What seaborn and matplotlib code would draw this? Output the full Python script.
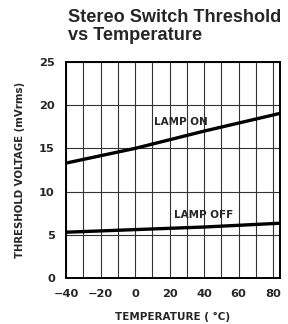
import matplotlib
matplotlib.use("Agg")
import matplotlib.pyplot as plt
import seaborn as sns
import pandas as pd

temps = [-40, 0, 40, 85]
lamp_on = [13.3, 15.0, 17.0, 19.1]
lamp_off = [5.3, 5.6, 5.9, 6.35]
x_ticks = [-40, -20, 0, 20, 40, 60, 80]
x_tick_labels = ["\u221240", "\u221220", "0", "20", "40", "60", "80"]
y_ticks = [0, 5, 10, 15, 20, 25]

df = pd.DataFrame({
    "temp": temps * 2,
    "v": lamp_on + lamp_off,
    "series": ["LAMP ON"] * len(temps) + ["LAMP OFF"] * len(temps),
})

sns.set_theme(style="white")
plt.rcParams["font.family"] = ["DejaVu Sans"]

fig = plt.figure(figsize=(2.88, 3.24), dpi=100)
ax = fig.add_axes([66/288, 46/324, 214/288, 216/324])

sns.lineplot(data=df, x="temp", y="v", units="series", estimator=None,
             color="black", linewidth=2.4, ax=ax, legend=False)

ax.set_xlim(-40, 84)
ax.set_ylim(0, 25)
ax.set_xticks(x_ticks)
ax.set_xticklabels(x_tick_labels)
ax.set_yticks(y_ticks)
ax.set_xticks(range(-30, 85, 10), minor=True)
ax.grid(True, which="both", axis="x", color="#333333", linewidth=0.8)
ax.grid(True, which="major", axis="y", color="#333333", linewidth=0.8)
ax.tick_params(axis="both", which="both", length=0)
ax.tick_params(axis="y", pad=8)
ax.tick_params(axis="x", pad=8)
for lab in ax.get_xticklabels() + ax.get_yticklabels():
    lab.set_fontsize(8.2)
    lab.set_fontweight("bold")
for s in ax.spines.values():
    s.set_color("black")
    s.set_linewidth(1.4)

ax.set_xlabel("TEMPERATURE ( \u00b0C)", fontsize=7.5, fontweight="bold", va="center")
ax.xaxis.set_label_coords(0.5, -0.18)
ax.set_ylabel("THRESHOLD VOLTAGE (mVrms)", fontsize=7.3, fontweight="bold", va="center")
ax.yaxis.set_label_coords(-0.215, 0.5)

ax.text(26.5, 18.1, "LAMP ON", ha="center", va="center", fontsize=7.5, fontweight="bold")
ax.text(39.8, 7.3, "LAMP OFF", ha="center", va="center", fontsize=7.5, fontweight="bold")

fig.text(68/288, 1 - 9/324, "Stereo Switch Threshold\nvs Temperature", ha="left", va="top",
         fontsize=13.1, fontweight="bold", family=["Liberation Sans", "DejaVu Sans"],
         linespacing=1.1)

fig.savefig("out.png", dpi=100)
